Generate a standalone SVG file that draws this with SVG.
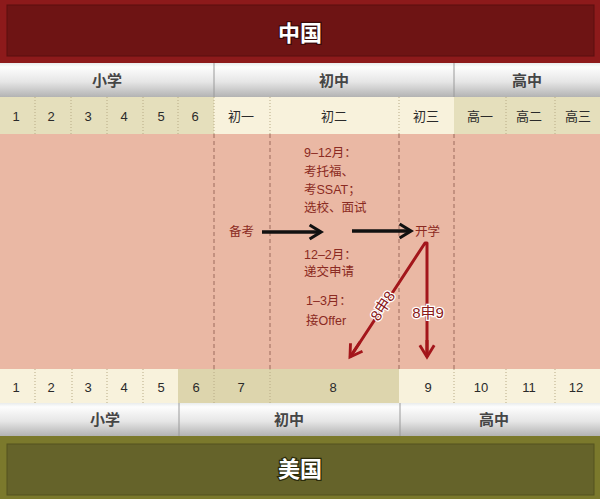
<svg xmlns="http://www.w3.org/2000/svg" width="600" height="499" viewBox="0 0 600 499">
<defs>
<linearGradient id="gbar" x1="0" y1="0" x2="0" y2="1">
<stop offset="0" stop-color="#e9ecec"/>
<stop offset="0.12" stop-color="#fdfdfd"/>
<stop offset="0.55" stop-color="#e6e6e6"/>
<stop offset="1" stop-color="#b3b3b3"/>
</linearGradient>
<marker id="blk" viewBox="0 0 10 10" refX="8" refY="5" markerWidth="5" markerHeight="5" orient="auto" markerUnits="strokeWidth">
<path d="M1.5,1 L8,5 L1.5,9" fill="none" stroke="#111" stroke-width="1.8" stroke-linejoin="miter"/>
</marker>
<marker id="red" viewBox="0 0 10 10" refX="8" refY="5" markerWidth="6" markerHeight="6" orient="auto" markerUnits="strokeWidth">
<path d="M1.5,1 L8,5 L1.5,9" fill="none" stroke="#a3161b" stroke-width="1.6"/>
</marker>
</defs>
<style>
.hdr{font-family:"Noto Sans CJK SC","Noto Sans",sans-serif;font-weight:bold;font-size:15px;fill:#454545;text-anchor:middle}
.ban{font-family:"Noto Sans CJK SC",sans-serif;font-weight:bold;font-size:22px;fill:#fff;text-anchor:middle;stroke:#3a0a0a;stroke-width:2.5px;paint-order:stroke}
.gr{font-family:"Liberation Sans","Noto Sans CJK SC",sans-serif;font-size:13px;fill:#2a2a2a;text-anchor:middle}
.note{font-family:"Liberation Sans","Noto Sans CJK SC",sans-serif;font-size:12.5px;fill:#8a2a22}
.rl{font-family:"Liberation Sans","Noto Sans CJK SC",sans-serif;font-size:15px;fill:#8a1a1a;stroke:#fff;stroke-width:2.5px;paint-order:stroke;text-anchor:middle}
.dot{stroke:#b8ab86;stroke-width:1;stroke-dasharray:1 2}
.dash{stroke:#9c6a5c;stroke-width:1;stroke-dasharray:4 3}
</style>

<g id="china-banner">
<rect x="0" y="0" width="600" height="63" fill="#8d1a1b"/>
<rect x="7" y="5" width="587" height="51" fill="#6e1414" stroke="#5a0f0f" stroke-width="1"/>
<text class="ban" x="300" y="41">中国</text>
</g>

<g id="china-stages">
<rect x="0" y="63" width="600" height="34" fill="url(#gbar)"/>
<line x1="214" y1="63" x2="214" y2="97" stroke="#9a9a9a"/>
<line x1="454" y1="63" x2="454" y2="97" stroke="#9a9a9a"/>
<text class="hdr" x="107" y="86">小学</text>
<text class="hdr" x="334" y="86">初中</text>
<text class="hdr" x="527" y="86">高中</text>
</g>

<g id="china-grades">
<rect x="0" y="97" width="214" height="37" fill="#e5dfbc"/>
<rect x="214" y="97" width="240" height="37" fill="#f8f2dc"/>
<rect x="454" y="97" width="146" height="37" fill="#e5dfbc"/>
<line class="dot" x1="35" y1="97" x2="35" y2="134"/>
<line class="dot" x1="71" y1="97" x2="71" y2="134"/>
<line class="dot" x1="107" y1="97" x2="107" y2="134"/>
<line class="dot" x1="143" y1="97" x2="143" y2="134"/>
<line class="dot" x1="178" y1="97" x2="178" y2="134"/>
<line class="dot" x1="214" y1="97" x2="214" y2="134"/>
<line class="dot" x1="270" y1="97" x2="270" y2="134"/>
<line class="dot" x1="399" y1="97" x2="399" y2="134"/>
<line class="dot" x1="506" y1="97" x2="506" y2="134"/>
<line class="dot" x1="555" y1="97" x2="555" y2="134"/>
<text class="gr" x="16" y="121">1</text>
<text class="gr" x="51" y="121">2</text>
<text class="gr" x="88" y="121">3</text>
<text class="gr" x="124" y="121">4</text>
<text class="gr" x="161" y="121">5</text>
<text class="gr" x="195" y="121">6</text>
<text class="gr" x="241" y="121">初一</text>
<text class="gr" x="334" y="121">初二</text>
<text class="gr" x="426" y="121">初三</text>
<text class="gr" x="480" y="121">高一</text>
<text class="gr" x="529" y="121">高二</text>
<text class="gr" x="578" y="121">高三</text>
</g>

<g id="timeline">
<rect x="0" y="134" width="600" height="235" fill="#eab8a4"/>
<line class="dash" x1="214" y1="134" x2="214" y2="369"/>
<line class="dash" x1="270" y1="134" x2="270" y2="369"/>
<line class="dash" x1="399" y1="134" x2="399" y2="369"/>
<line class="dash" x1="454" y1="134" x2="454" y2="369"/>
</g>

<g id="notes">
<text class="note" x="304" y="157">9–12月：</text>
<text class="note" x="304" y="176">考托福、</text>
<text class="note" x="304" y="194">考SSAT；</text>
<text class="note" x="304" y="212">选校、面试</text>
<text class="note" x="229" y="236">备考</text>
<text class="note" x="415" y="236">开学</text>
<text class="note" x="304" y="259">12–2月：</text>
<text class="note" x="304" y="276">递交申请</text>
<text class="note" x="306" y="305">1–3月：</text>
<text class="note" x="306" y="325">接Offer</text>
</g>

<g id="connectors">
<line x1="262" y1="232" x2="321" y2="232" stroke="#111" stroke-width="3.5" marker-end="url(#blk)"/>
<line x1="352" y1="231" x2="411" y2="231" stroke="#111" stroke-width="3.5" marker-end="url(#blk)"/>
<polyline points="351,356 425,243 427,243 427,355" fill="none" stroke="#a3161b" stroke-width="3" stroke-linejoin="round"/>
<line x1="360" y1="342" x2="350" y2="357" stroke="#a3161b" stroke-width="3" marker-end="url(#red)"/>
<line x1="427" y1="340" x2="427" y2="357" stroke="#a3161b" stroke-width="3" marker-end="url(#red)"/>
<text class="rl" transform="translate(383,306) rotate(-57)" y="5">8申8</text>
<text class="rl" x="428" y="318">8申9</text>
</g>

<g id="us-grades">
<rect x="0" y="369" width="178" height="34" fill="#f8f2dc"/>
<rect x="178" y="369" width="221" height="34" fill="#ddd5ad"/>
<rect x="399" y="369" width="201" height="34" fill="#f8f2dc"/>
<line class="dot" x1="35" y1="369" x2="35" y2="403"/>
<line class="dot" x1="72" y1="369" x2="72" y2="403"/>
<line class="dot" x1="107" y1="369" x2="107" y2="403"/>
<line class="dot" x1="143" y1="369" x2="143" y2="403"/>
<line class="dot" x1="214" y1="369" x2="214" y2="403"/>
<line class="dot" x1="270" y1="369" x2="270" y2="403"/>
<line class="dot" x1="454" y1="369" x2="454" y2="403"/>
<line class="dot" x1="506" y1="369" x2="506" y2="403"/>
<line class="dot" x1="555" y1="369" x2="555" y2="403"/>
<text class="gr" x="16" y="392">1</text>
<text class="gr" x="51" y="392">2</text>
<text class="gr" x="88" y="392">3</text>
<text class="gr" x="124" y="392">4</text>
<text class="gr" x="161" y="392">5</text>
<text class="gr" x="196" y="392">6</text>
<text class="gr" x="241" y="392">7</text>
<text class="gr" x="333" y="392">8</text>
<text class="gr" x="428" y="392">9</text>
<text class="gr" x="481" y="392">10</text>
<text class="gr" x="529" y="392">11</text>
<text class="gr" x="576" y="392">12</text>
</g>

<g id="us-stages">
<rect x="0" y="403" width="600" height="33" fill="url(#gbar)"/>
<line x1="179" y1="403" x2="179" y2="436" stroke="#9a9a9a"/>
<line x1="400" y1="403" x2="400" y2="436" stroke="#9a9a9a"/>
<text class="hdr" x="105" y="425">小学</text>
<text class="hdr" x="289" y="425">初中</text>
<text class="hdr" x="494" y="425">高中</text>
</g>

<g id="us-banner">
<rect x="0" y="436" width="600" height="63" fill="#7b792c"/>
<rect x="7" y="444" width="587" height="51" fill="#65632a" stroke="#55531f" stroke-width="1"/>
<text class="ban" x="300" y="477" style="stroke:#2a2a0a">美国</text>
</g>
</svg>
